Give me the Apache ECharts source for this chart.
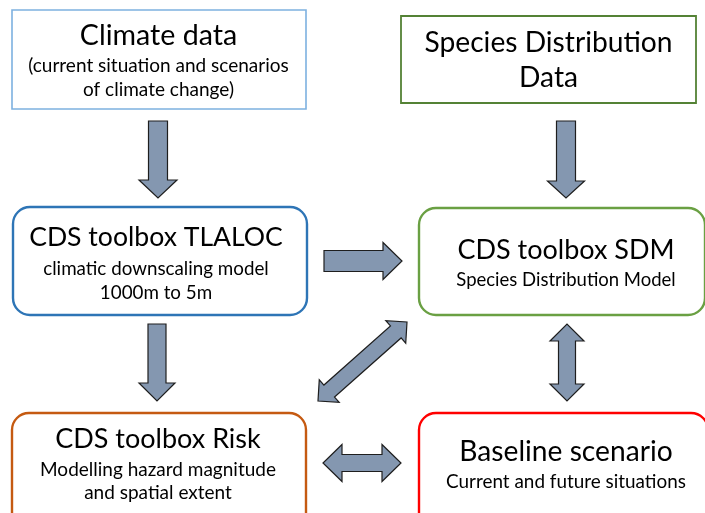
<!DOCTYPE html>
<html><head><meta charset="utf-8">
<script src="https://cdn.jsdelivr.net/npm/echarts@6/dist/echarts.min.js"></script>
<style>html,body{margin:0;padding:0;background:#fff}#c{width:705px;height:513px}</style>
</head><body><div id="c"></div>
<script>
// ---- content (data) ----
const boxNames = ['Climate data', 'Species Distribution Data', 'CDS toolbox TLALOC', 'CDS toolbox SDM', 'CDS toolbox Risk', 'Baseline scenario'];
const boxTitleLines = [['Climate data'], ['Species Distribution', 'Data'], ['CDS toolbox TLALOC'], ['CDS toolbox SDM'], ['CDS toolbox Risk'], ['Baseline scenario']];
const boxSubtitleLines = [['(current situation and scenarios', 'of climate change)'], [], ['climatic downscaling model', '1000m to 5m'], ['Species Distribution Model'], ['Modelling hazard magnitude', 'and spatial extent'], ['Current and future situations']];
const linkFrom = ['Climate data', 'Species Distribution Data', 'CDS toolbox TLALOC', 'CDS toolbox TLALOC', 'CDS toolbox Risk', 'CDS toolbox SDM', 'CDS toolbox Risk'];
const linkTo = ['CDS toolbox TLALOC', 'CDS toolbox SDM', 'CDS toolbox SDM', 'CDS toolbox Risk', 'CDS toolbox SDM', 'Baseline scenario', 'Baseline scenario'];
const linkBothWays = [false, false, false, false, true, true, true];

// ---- layout (positions in the 705x513 axis space) ----
const boxRect = [[12, 10, 306, 109], [401, 16, 696, 103], [13, 207, 307, 315], [419, 208, 705, 315], [12, 413, 306, 530], [419, 413, 708, 530]];
const boxRadius = [0, 0, 17, 17, 17, 17];
const boxColor = ['#7DB1E0', '#548235', '#2E75B6', '#6AA043', '#C55A11', '#FF0000'];
const boxLineW = [1.6, 1.8, 2.4, 2.4, 2.4, 2.4];
const textX = [158.5, 548.5, 156, 566, 158, 566];
const titleY = [[36], [43, 78], [237], [250], [439], [452]];
const subY = [[66, 90], [], [269, 293], [280], [470, 493], [482]];
const titleSize = [28.6, 28.2, 26.6, 27, 27, 28.2];
const subSize = [19, 19, 18.8, 18.5, 19, 18.9];
const arrowStart = [[158, 121], [566, 121], [324, 261], [157, 324], [318, 401], [567, 324], [323, 463]];
const arrowEnd = [[158, 198], [566, 198], [402, 261], [157, 401], [407, 322], [567, 401], [401, 463]];
const arrowShaft = [19, 19, 21, 18, 16, 17, 17];
const arrowHead = [38, 37, 37, 36, 30, 34, 37];
const arrowHeadLen = [18, 17, 19, 18, 15, 17, 19];

const FONT = 'Lato, "Open Sans", sans-serif';

function arrowPoints(p0, p1, sw, hw, hl, both) {
  const dx = p1[0] - p0[0], dy = p1[1] - p0[1];
  const L = Math.hypot(dx, dy);
  const ux = dx / L, uy = dy / L, px = -uy, py = ux;
  const P = (b, a, d) => [b[0] + ux * a + px * d, b[1] + uy * a + py * d];
  const pts = [];
  if (both) {
    pts.push(P(p0, hl, sw / 2), P(p1, -hl, sw / 2), P(p1, -hl, hw / 2), p1.slice(), P(p1, -hl, -hw / 2), P(p1, -hl, -sw / 2),
      P(p0, hl, -sw / 2), P(p0, hl, -hw / 2), p0.slice(), P(p0, hl, hw / 2));
  } else {
    pts.push(P(p0, 0, sw / 2), P(p1, -hl, sw / 2), P(p1, -hl, hw / 2), p1.slice(), P(p1, -hl, -hw / 2), P(p1, -hl, -sw / 2), P(p0, 0, -sw / 2));
  }
  return pts;
}

const chart = echarts.init(document.getElementById('c'), null, { renderer: 'canvas' });
chart.setOption({
  animation: false,
  backgroundColor: '#ffffff',
  grid: { left: 0, right: 0, top: 0, bottom: 0 },
  xAxis: { type: 'value', min: 0, max: 705, show: false },
  yAxis: { type: 'value', min: 0, max: 513, inverse: true, show: false },
  series: [
    {
      type: 'custom',
      silent: true,
      clip: false,
      data: linkFrom.map((f, i) => [i, boxNames.indexOf(f), boxNames.indexOf(linkTo[i])]),
      renderItem: function (params, api) {
        const i = api.value(0);
        const p0 = api.coord(arrowStart[i]);
        const p1 = api.coord(arrowEnd[i]);
        return {
          type: 'polygon',
          shape: { points: arrowPoints(p0, p1, arrowShaft[i], arrowHead[i], arrowHeadLen[i], linkBothWays[i]) },
          style: { fill: '#8497B0', stroke: '#1E1E1E', lineWidth: 1.2, lineJoin: 'miter' }
        };
      }
    },
    {
      type: 'custom',
      silent: true,
      clip: false,
      data: boxNames.map((n, i) => [i]),
      renderItem: function (params, api) {
        const i = api.value(0);
        const r = boxRect[i];
        const a = api.coord([r[0], r[1]]);
        const b = api.coord([r[2], r[3]]);
        const children = [{
          type: 'rect',
          shape: { x: a[0], y: a[1], width: b[0] - a[0], height: b[1] - a[1], r: boxRadius[i] },
          style: { fill: '#ffffff', stroke: boxColor[i], lineWidth: boxLineW[i] }
        }];
        boxTitleLines[i].forEach((t, k) => {
          const c = api.coord([textX[i], titleY[i][k]]);
          children.push({
            type: 'text',
            style: { text: t, x: c[0], y: c[1], fill: '#000000', font: titleSize[i] + 'px ' + FONT, align: 'center', verticalAlign: 'middle' }
          });
        });
        boxSubtitleLines[i].forEach((t, k) => {
          const c = api.coord([textX[i], subY[i][k]]);
          children.push({
            type: 'text',
            style: { text: t, x: c[0], y: c[1], fill: '#000000', font: subSize[i] + 'px ' + FONT, align: 'center', verticalAlign: 'middle' }
          });
        });
        return { type: 'group', children: children };
      }
    }
  ]
});
</script>
</body></html>
